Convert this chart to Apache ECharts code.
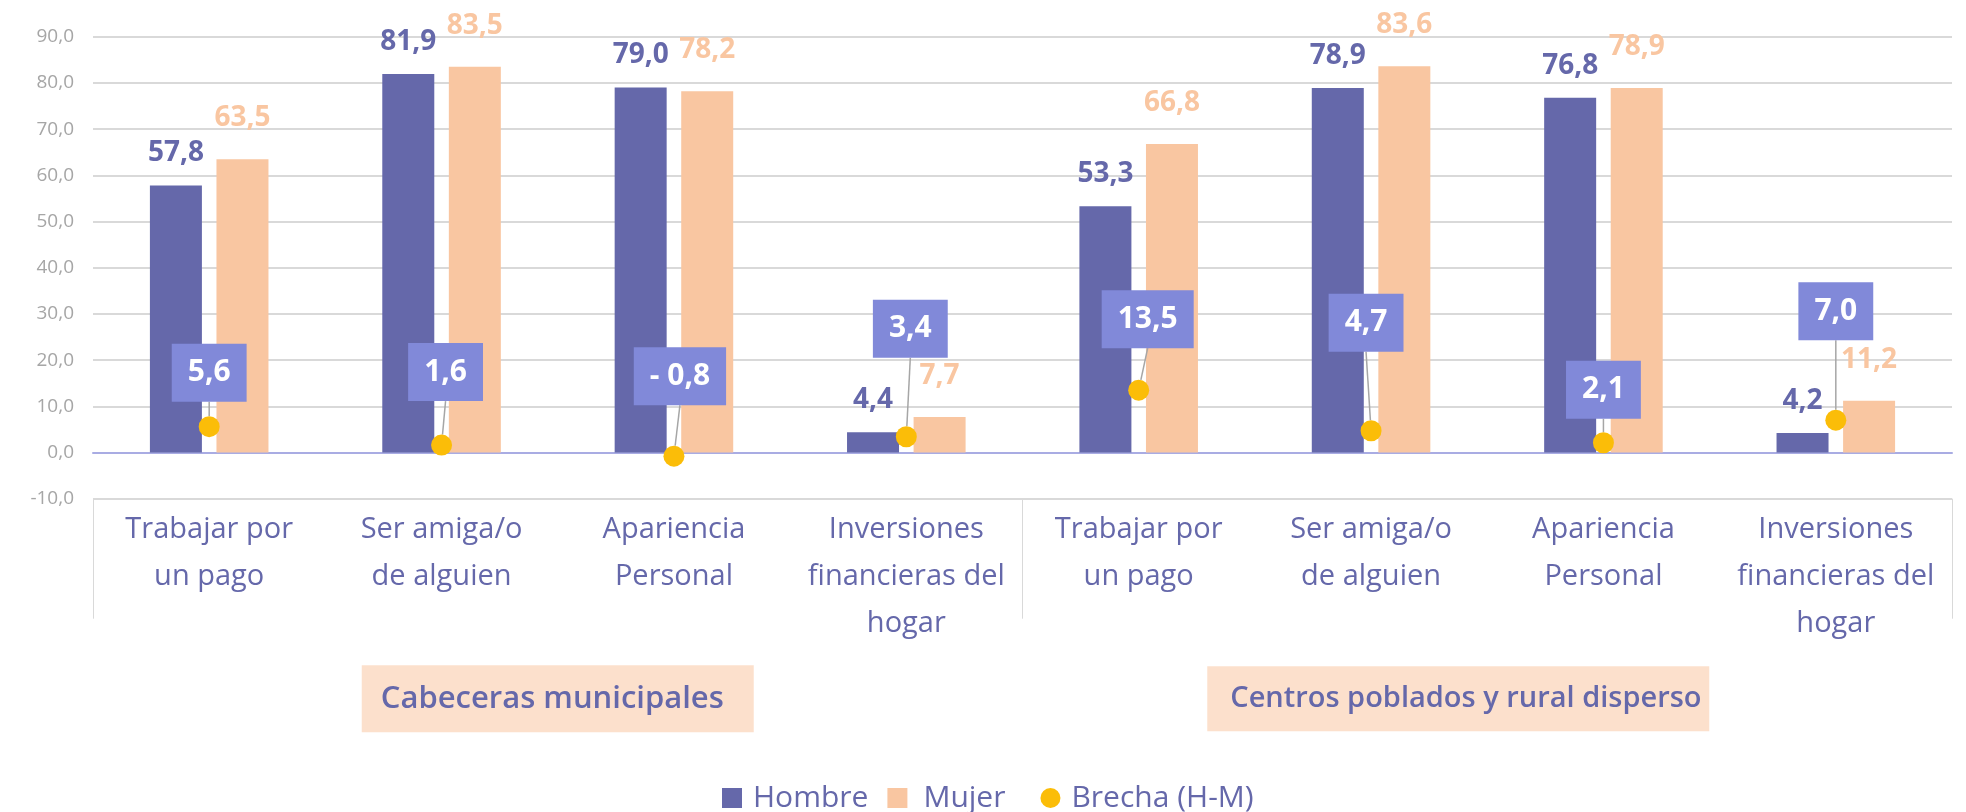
<!DOCTYPE html>
<html>
<head>
<meta charset="utf-8">
<script src="https://cdn.jsdelivr.net/npm/echarts@6/dist/echarts.min.js"></script>
<style>
html, body { margin: 0; padding: 0; background: #fff; }
#chart { width: 1966px; height: 812px; }
</style>
</head>
<body>
<div id="chart"></div>
<script>
// categories (two groups of four)
var categories = [
    'Trabajar por\nun pago', 'Ser amiga/o\nde alguien', 'Apariencia\nPersonal', 'Inversiones\nfinancieras del\nhogar',
    'Trabajar por\nun pago', 'Ser amiga/o\nde alguien', 'Apariencia\nPersonal', 'Inversiones\nfinancieras del\nhogar'
];
var groups = ['Cabeceras municipales', 'Centros poblados y rural disperso'];

var hombre = [57.8, 81.9, 79.0, 4.4, 53.3, 78.9, 76.8, 4.2];
var mujer = [63.5, 83.5, 78.2, 7.7, 66.8, 83.6, 78.9, 11.2];
var brecha = [5.6, 1.6, -0.8, 3.4, 13.5, 4.7, 2.1, 7.0];

// where each gap label box sits relative to its dot (px)
var brechaLabelShift = [[0, -54], [4, -73], [6, -80], [4, -108], [9, -71], [-5, -108], [0, -53], [0, -109]];

var PURPLE = '#6568AA';
var PEACH = '#F9C6A1';
var GOLD = '#FBBD08';
var FONT = '"Open Sans", sans-serif';

function comma(v) {
    return v.toFixed(1).replace('.', ',');
}

var chart = echarts.init(document.getElementById('chart'));

chart.setOption({
    animation: false,
    textStyle: {
        fontFamily: FONT
    },
    legend: {
        left: 722,
        top: 783,
        padding: 0,
        itemWidth: 20,
        itemHeight: 20,
        itemGap: 19,
        formatter: function (name) {
            return name === 'Mujer' ? '{m|' + name + '}' : '{n|' + name + '}';
        },
        textStyle: {
            color: PURPLE,
            fontSize: 30,
            lineHeight: 30,
            fontFamily: FONT,
            rich: {
                n: {padding: [0, 0, 0, 6]},
                m: {padding: [0, 16, 0, 11]}
            }
        },
        data: [
            {name: 'Hombre', icon: 'rect'},
            {name: 'Mujer', icon: 'rect'},
            {name: 'Brecha (H-M)', icon: 'circle'}
        ]
    },
    grid: {
        left: 93,
        right: 14,
        top: 36.7,
        bottom: 313.3
    },
    xAxis: [
        {
            type: 'category',
            data: categories,
            axisLine: {
                onZero: true,
                lineStyle: {
                    color: '#A9ACE3',
                    width: 2
                }
            },
            axisTick: {show: false},
            axisLabel: {
                interval: 0,
                margin: 8,
                color: PURPLE,
                fontSize: 29,
                lineHeight: 47,
                fontFamily: FONT
            }
        },
        {
            type: 'category',
            data: groups,
            position: 'bottom',
            axisLine: {
                show: false,
                onZero: true
            },
            axisTick: {
                show: true,
                length: 120,
                lineStyle: {
                    color: '#D9D9D9',
                    width: 1
                }
            },
            axisLabel: {
                interval: 0,
                margin: 185,
                formatter: function (v, i) {
                    return i === 0 ? '{a|' + v + '}' : '{b|' + v + '}{s|}';
                },
                rich: {
                    a: {
                        backgroundColor: '#FCE0CC',
                        color: PURPLE,
                        fontSize: 31,
                        fontWeight: 600,
                        fontFamily: FONT,
                        lineHeight: 30,
                        width: 337,
                        align: 'left',
                        padding: [18, 36, 18, 19]
                    },
                    b: {
                        backgroundColor: '#FCE0CC',
                        color: PURPLE,
                        fontSize: 29,
                        fontWeight: 600,
                        fontFamily: FONT,
                        lineHeight: 30,
                        width: 462,
                        align: 'left',
                        padding: [18, 17, 18, 23]
                    },
                    s: {
                        width: 58
                    }
                }
            }
        }
    ],
    yAxis: {
        type: 'value',
        min: -10,
        max: 90,
        interval: 10,
        axisLine: {show: false},
        axisTick: {show: false},
        axisLabel: {
            color: '#A6A6A6',
            fontSize: 19,
            margin: 19,
            fontFamily: FONT,
            formatter: function (v) { return comma(v); }
        },
        splitLine: {
            lineStyle: {
                color: '#D9D9D9',
                width: 2
            }
        }
    },
    series: [
        {
            name: 'Hombre',
            type: 'bar',
            xAxisIndex: 0,
            barWidth: 52,
            barGap: '28%',
            itemStyle: {color: PURPLE},
            label: {
                show: true,
                position: 'top',
                distance: 18,
                color: PURPLE,
                fontSize: 28,
                lineHeight: 28,
                fontWeight: 'bold',
                fontFamily: FONT,
                formatter: function (p) { return comma(p.value); }
            },
            data: hombre
        },
        {
            name: 'Mujer',
            type: 'bar',
            xAxisIndex: 0,
            barWidth: 52,
            barGap: '28%',
            itemStyle: {color: PEACH},
            label: {
                show: true,
                position: 'top',
                distance: 27,
                color: PEACH,
                fontSize: 28,
                lineHeight: 28,
                fontWeight: 'bold',
                fontFamily: FONT,
                formatter: function (p) { return comma(p.value); }
            },
            data: mujer
        },
        {
            name: 'Brecha (H-M)',
            type: 'scatter',
            xAxisIndex: 0,
            symbol: 'circle',
            symbolSize: 21,
            z: 5,
            itemStyle: {color: GOLD, opacity: 1},
            label: {
                show: true,
                position: 'inside',
                backgroundColor: '#8189D9',
                padding: [14, 16],
                color: '#fff',
                fontSize: 30,
                lineHeight: 30,
                fontWeight: 'bold',
                fontFamily: FONT,
                formatter: function (p) {
                    return p.value < 0 ? '- ' + comma(-p.value) : comma(p.value);
                }
            },
            labelLine: {
                show: true,
                lineStyle: {
                    color: '#A6A6A6',
                    width: 1.5
                }
            },
            labelLayout: function (p) {
                var s = brechaLabelShift[p.dataIndex];
                return {dx: s[0], dy: s[1]};
            },
            data: brecha
        }
    ]
});
</script>
</body>
</html>
